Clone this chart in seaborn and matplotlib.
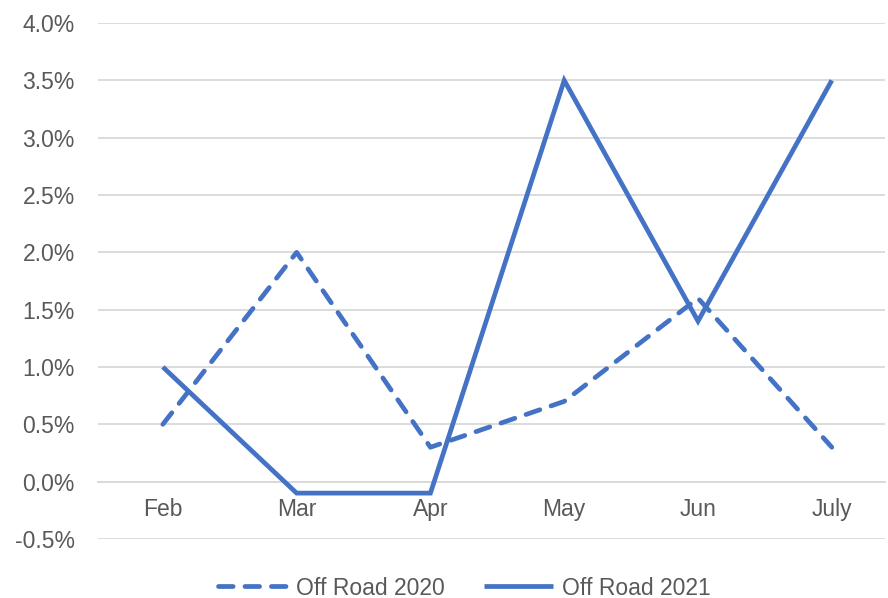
import matplotlib
matplotlib.use("Agg")
import matplotlib.pyplot as plt
from matplotlib.ticker import PercentFormatter, MultipleLocator
from matplotlib.lines import Line2D
import seaborn as sns
import pandas as pd

months = ["Feb", "Mar", "Apr", "May", "Jun", "July"]
off_road_2020 = [0.005, 0.020, 0.003, 0.007, 0.016, 0.003]
off_road_2021 = [0.010, -0.001, -0.001, 0.035, 0.014, 0.035]
series_names = ["Off Road 2020", "Off Road 2021"]

df = pd.DataFrame({
    "month": months * 2,
    "value": off_road_2020 + off_road_2021,
    "series": [series_names[0]] * len(months) + [series_names[1]] * len(months),
})

sns.set_theme(style="white")
plt.rcParams["font.family"] = ["Liberation Sans", "DejaVu Sans"]
plt.rcParams["axes.unicode_minus"] = False

blue = "#4472C4"
grid_col = "#D9D9D9"
text_col = "#595959"
fs = 16.5
lw = 3.4
dash = (3.1, 2.5)

fig = plt.figure(figsize=(8.88, 5.98), dpi=100)
ax = fig.add_axes([0.110, 0.0987, 0.887, 0.8628])

sns.lineplot(
    data=df, x="month", y="value", hue="series", style="series",
    palette={series_names[0]: blue, series_names[1]: blue},
    dashes={series_names[0]: dash, series_names[1]: ""},
    linewidth=lw, sort=False, ax=ax, legend=False,
)
for ln in ax.get_lines():
    ln.set_dash_capstyle("round")
    ln.set_solid_capstyle("butt")
    ln.set_solid_joinstyle("miter")

ax.set_ylim(-0.005, 0.040)
ax.set_xlim(-0.487, 5.40)
ax.yaxis.set_major_locator(MultipleLocator(0.005))
ax.yaxis.set_major_formatter(PercentFormatter(xmax=1, decimals=1))
ax.grid(axis="y", color=grid_col, linewidth=1.3)
ax.set_axisbelow(True)

for s in ["top", "right", "left"]:
    ax.spines[s].set_visible(False)
ax.spines["bottom"].set_position(("data", 0))
ax.spines["bottom"].set_color(grid_col)
ax.spines["bottom"].set_linewidth(1.3)
ax.spines["bottom"].set_zorder(0.5)

ax.tick_params(axis="both", length=0, labelsize=fs, labelcolor=text_col)
ax.tick_params(axis="x", pad=12)
ax.tick_params(axis="y", pad=16.5)
ax.set_xlabel("")
ax.set_ylabel("")

handles = [
    Line2D([], [], color=blue, linewidth=lw, linestyle=(0, dash),
           dash_capstyle="round"),
    Line2D([], [], color=blue, linewidth=lw, solid_capstyle="butt"),
]
fig.legend(handles, series_names, loc="lower center", bbox_to_anchor=(0.523, -0.037),
           ncol=2, frameon=False, fontsize=fs, labelcolor=text_col,
           handlelength=3.0, handletextpad=0.4, columnspacing=1.7)

fig.savefig("out.png", dpi=100)
